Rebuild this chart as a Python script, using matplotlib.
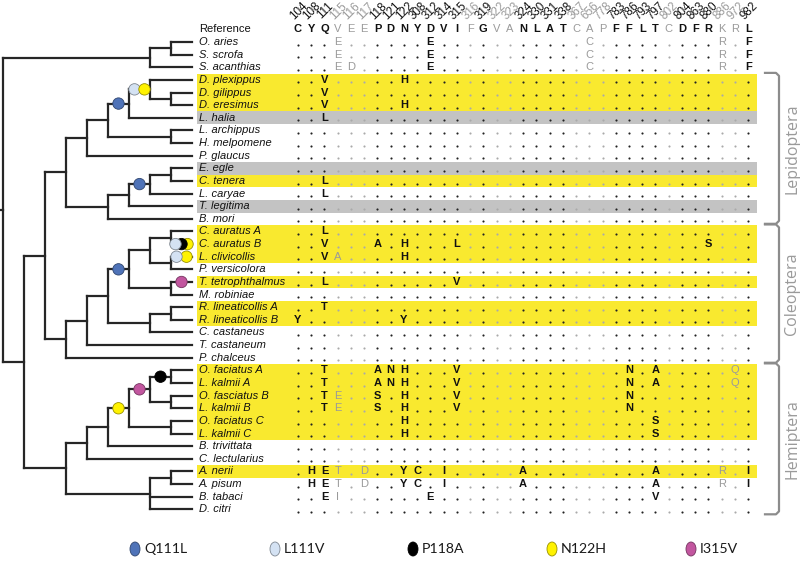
import matplotlib
matplotlib.use('Agg')
import matplotlib.pyplot as plt
from matplotlib.patches import Rectangle, Ellipse, Circle
from matplotlib.colors import to_rgb

# ---------------- data ----------------
positions = ['104', '108', '111', '115', '116', '117', '118', '121', '122', '308', '312',
             '314', '315', '316', '319', '322', '323', '324', '330', '331', '338', '367',
             '656', '778', '783', '786', '793', '797', '802', '804', '863', '880', '886',
             '972', '982']
reference = list('CYQVEEPDNYDVIFGVANLATCAPFFLTCDFRKRL')
gray_positions = ['115', '116', '117', '316', '322', '323', '367', '656', '778', '802', '886', '972']

species = ['O. aries', 'S. scrofa', 'S. acanthias', 'D. plexippus', 'D. gilippus',
           'D. eresimus', 'L. halia', 'L. archippus', 'H. melpomene', 'P. glaucus',
           'E. egle', 'C. tenera', 'L. caryae', 'T. legitima', 'B. mori',
           'C. auratus A', 'C. auratus B', 'L. clivicollis', 'P. versicolora',
           'T. tetrophthalmus', 'M. robiniae', 'R. lineaticollis A', 'R. lineaticollis B',
           'C. castaneus', 'T. castaneum', 'P. chalceus', 'O. faciatus A', 'L. kalmii A',
           'O. fasciatus B', 'L. kalmii B', 'O. faciatus C', 'L. kalmii C', 'B. trivittata',
           'C. lectularius', 'A. nerii', 'A. pisum', 'B. tabaci', 'D. citri']

yellow_rows = ['D. plexippus', 'D. gilippus', 'D. eresimus', 'C. tenera', 'C. auratus A',
               'C. auratus B', 'L. clivicollis', 'T. tetrophthalmus', 'R. lineaticollis A',
               'R. lineaticollis B', 'O. faciatus A', 'L. kalmii A', 'O. fasciatus B',
               'L. kalmii B', 'O. faciatus C', 'L. kalmii C', 'A. nerii']
gray_rows = ['L. halia', 'E. egle', 'T. legitima']

substitutions = {
    'O. aries': {'115': 'E', '312': 'E', '656': 'C', '886': 'R', '982': 'F'},
    'S. scrofa': {'115': 'E', '312': 'E', '656': 'C', '886': 'R', '982': 'F'},
    'S. acanthias': {'115': 'E', '116': 'D', '312': 'E', '656': 'C', '886': 'R', '982': 'F'},
    'D. plexippus': {'111': 'V', '122': 'H'},
    'D. gilippus': {'111': 'V'},
    'D. eresimus': {'111': 'V', '122': 'H'},
    'L. halia': {'111': 'L'},
    'C. tenera': {'111': 'L'},
    'L. caryae': {'111': 'L'},
    'C. auratus A': {'111': 'L'},
    'C. auratus B': {'111': 'V', '118': 'A', '122': 'H', '315': 'L', '880': 'S'},
    'L. clivicollis': {'111': 'V', '115': 'A', '122': 'H'},
    'T. tetrophthalmus': {'111': 'L', '315': 'V'},
    'R. lineaticollis A': {'111': 'T'},
    'R. lineaticollis B': {'104': 'Y', '122': 'Y'},
    'O. faciatus A': {'111': 'T', '118': 'A', '121': 'N', '122': 'H', '315': 'V',
                      '786': 'N', '797': 'A', '972': 'Q'},
    'L. kalmii A': {'111': 'T', '118': 'A', '121': 'N', '122': 'H', '315': 'V',
                    '786': 'N', '797': 'A', '972': 'Q'},
    'O. fasciatus B': {'111': 'T', '115': 'E', '118': 'S', '122': 'H', '315': 'V', '786': 'N'},
    'L. kalmii B': {'111': 'T', '115': 'E', '118': 'S', '122': 'H', '315': 'V', '786': 'N'},
    'O. faciatus C': {'122': 'H', '797': 'S'},
    'L. kalmii C': {'122': 'H', '797': 'S'},
    'A. nerii': {'108': 'H', '111': 'E', '115': 'T', '117': 'D', '122': 'Y', '308': 'C',
                 '314': 'I', '324': 'A', '797': 'A', '886': 'R', '982': 'I'},
    'A. pisum': {'108': 'H', '111': 'E', '115': 'T', '117': 'D', '122': 'Y', '308': 'C',
                 '314': 'I', '324': 'A', '797': 'A', '886': 'R', '982': 'I'},
    'B. tabaci': {'111': 'E', '115': 'I', '312': 'E', '797': 'V'},
}

outgroup = (('O. aries', 'S. scrofa'), 'S. acanthias')
lepidoptera = (((((('D. plexippus', ('D. gilippus', 'D. eresimus')), 'L. halia'),
                  ('L. archippus', 'H. melpomene')), 'P. glaucus'),
                (((('E. egle', 'C. tenera'), 'L. caryae'), 'T. legitima'), 'B. mori')))
coleoptera = ((((((('C. auratus A', 'C. auratus B'), ('L. clivicollis', 'P. versicolora')),
                  ('T. tetrophthalmus', 'M. robiniae')),
                 (('R. lineaticollis A', 'R. lineaticollis B'), 'C. castaneus')),
                'T. castaneum'), 'P. chalceus'))
hemiptera = ((((((('O. faciatus A', 'L. kalmii A'), ('O. fasciatus B', 'L. kalmii B')),
                 ('O. faciatus C', 'L. kalmii C')), 'B. trivittata'), 'C. lectularius'),
              (('A. nerii', 'A. pisum'), 'B. tabaci', 'D. citri')))
tree = (outgroup, ((lepidoptera, coleoptera), hemiptera))

mutation_events = [
    (['D. plexippus', 'D. gilippus', 'D. eresimus', 'L. halia'], ['Q111L']),
    (['D. plexippus', 'D. gilippus', 'D. eresimus'], ['L111V', 'N122H']),
    (['E. egle', 'C. tenera', 'L. caryae'], ['Q111L']),
    (['C. auratus A', 'C. auratus B', 'L. clivicollis', 'P. versicolora',
      'T. tetrophthalmus', 'M. robiniae'], ['Q111L']),
    (['C. auratus B'], ['L111V', 'P118A', 'N122H']),
    (['L. clivicollis'], ['L111V', 'N122H']),
    (['T. tetrophthalmus'], ['I315V']),
    (['O. faciatus A', 'L. kalmii A', 'O. fasciatus B', 'L. kalmii B',
      'O. faciatus C', 'L. kalmii C'], ['N122H']),
    (['O. faciatus A', 'L. kalmii A', 'O. fasciatus B', 'L. kalmii B'], ['I315V']),
    (['O. faciatus A', 'L. kalmii A'], ['P118A']),
]

mutation_names = ['Q111L', 'L111V', 'P118A', 'N122H', 'I315V']
mutation_colors = ['#4f73b8', '#d4e2f3', '#000000', '#fff200', '#c2569f']

orders = [('Lepidoptera', 'D. plexippus', 'B. mori'),
          ('Coleoptera', 'C. auratus A', 'P. chalceus'),
          ('Hemiptera', 'O. faciatus A', 'D. citri')]

# ---------------- layout ----------------
W, H = 800, 564
fig = plt.figure(figsize=(W / 100, H / 100), dpi=100)
ax = fig.add_axes([0, 0, 1, 1])
ax.set_xlim(0, W)
ax.set_ylim(H, 0)
ax.axis('off')

row0, drow = 42.0, 12.63
ref_y = row0 - drow
col0, dcol = 298.0, 13.24
tip_x, level = 192.0, 21.0
label_x = 199
band_x0, band_x1 = 197, 757

row_y = {s: row0 + i * drow for i, s in enumerate(species)}
col_x = {p: col0 + i * dcol for i, p in enumerate(positions)}

YELLOW = '#f9e92f'
GRAY = '#c3c3c3'
TREE_C = '#262626'
SANS = ['Liberation Sans', 'DejaVu Sans']

# highlight bands
for s in species:
    c = YELLOW if s in yellow_rows else GRAY if s in gray_rows else None
    if c:
        ax.add_patch(Rectangle((band_x0, row_y[s] - drow / 2), band_x1 - band_x0, drow,
                               facecolor=c, edgecolor='none', zorder=0))

# header numbers
for p in positions:
    col = '#9a9a9a' if p in gray_positions else '#111111'
    ax.text(col_x[p] + 1, 11, p, rotation=45, ha='center', va='center', fontsize=8.4,
            color=col, family=SANS, rotation_mode='anchor')

# reference row
ax.text(label_x, ref_y, 'Reference', ha='left', va='center', fontsize=8.0, family=SANS,
        color='#111111')
for p, aa in zip(positions, reference):
    g = p in gray_positions
    ax.text(col_x[p], ref_y, aa, ha='center', va='center', fontsize=8.0, family=SANS,
            fontweight='normal' if g else 'bold', color='#9a9a9a' if g else '#111111')

# species rows
for s in species:
    y = row_y[s]
    ax.text(label_x, y, s, ha='left', va='center', fontsize=8.0, family=SANS,
            style='italic', color='#111111')
    subs = substitutions.get(s, {})
    for p in positions:
        g = p in gray_positions
        if p in subs:
            ax.text(col_x[p], y, subs[p], ha='center', va='center', fontsize=8.0,
                    family=SANS, fontweight='normal' if g else 'bold',
                    color='#9a9a9a' if g else '#111111')
        else:
            ax.scatter([col_x[p]], [y + 2.6], s=2.4, color='#aaaaaa' if g else '#222222',
                       linewidths=0, zorder=2)

# ---------------- tree ----------------
node_info = {}


def height(n):
    if isinstance(n, str):
        return 0
    return 1 + max(height(c) for c in n)


def tips(n):
    if isinstance(n, str):
        return [n]
    out = []
    for c in n:
        out += tips(c)
    return out


def draw(n, parent_x=None):
    if isinstance(n, str):
        x, y = tip_x, row_y[n]
    else:
        x = tip_x - level * height(n)
        ys = [draw(c, x) for c in n]
        y = (ys[0] + ys[-1]) / 2
        ax.plot([x, x], [ys[0], ys[-1]], color=TREE_C, lw=1.6, solid_capstyle='projecting',
                zorder=3)
    if parent_x is not None:
        ax.plot([parent_x, x], [y, y], color=TREE_C, lw=1.6, solid_capstyle='projecting',
                zorder=3)
    node_info[frozenset(tips(n))] = (x, y, parent_x)
    return y


root_y = draw(tree)
root_x = tip_x - level * height(tree)
ax.plot([0, root_x], [root_y, root_y], color=TREE_C, lw=1.6, zorder=3)


def darker(c, f=0.6):
    r, g, b = to_rgb(c)
    if (r + g + b) < 0.1:
        return '#000000'
    return (r * f, g * f, b * f)


cmap = dict(zip(mutation_names, mutation_colors))
for clade, muts in mutation_events:
    x, y, px = node_info[frozenset(clade)]
    mid = (x + px) / 2
    n = len(muts)
    sp = 10 if n <= 2 else 6
    is_tip = len(clade) == 1
    for i, m in enumerate(muts):
        cx = mid + (i - (n - 1) / 2) * sp
        z = 10 - i if is_tip else 5 + i
        ax.add_patch(Circle((cx, y), 5.7, facecolor=cmap[m], edgecolor=darker(cmap[m]),
                            lw=0.6, zorder=z))

# ---------------- order brackets ----------------
for name, first, last in orders:
    y0 = row_y[first] - 7
    y1 = row_y[last] + 5
    xb0, xb1 = 765, 779
    ax.plot([xb0, xb1 - 3, xb1, xb1, xb1 - 3, xb0], [y0, y0, y0 + 3, y1 - 3, y1, y1],
            color='#8c8c8c', lw=1.6, solid_joinstyle='round', zorder=3)
    ax.text(792, (y0 + y1) / 2, name, rotation=90, ha='center', va='center',
            fontsize=11.5, color='#9a9a9a', family=['Open Sans', 'DejaVu Sans'])

# ---------------- legend ----------------
leg_x = [135, 275, 413, 552, 691]
leg_y = 549
for lx, m, c in zip(leg_x, mutation_names, mutation_colors):
    ax.add_patch(Ellipse((lx, leg_y), 10, 14, facecolor=c, edgecolor=darker(c), lw=0.6))
    ax.text(lx + 9, leg_y, m, ha='left', va='center', fontsize=10.2, color='#1a1a1a',
            family=['Lato', 'DejaVu Sans'])

fig.savefig('out.png', dpi=100, facecolor='white')
